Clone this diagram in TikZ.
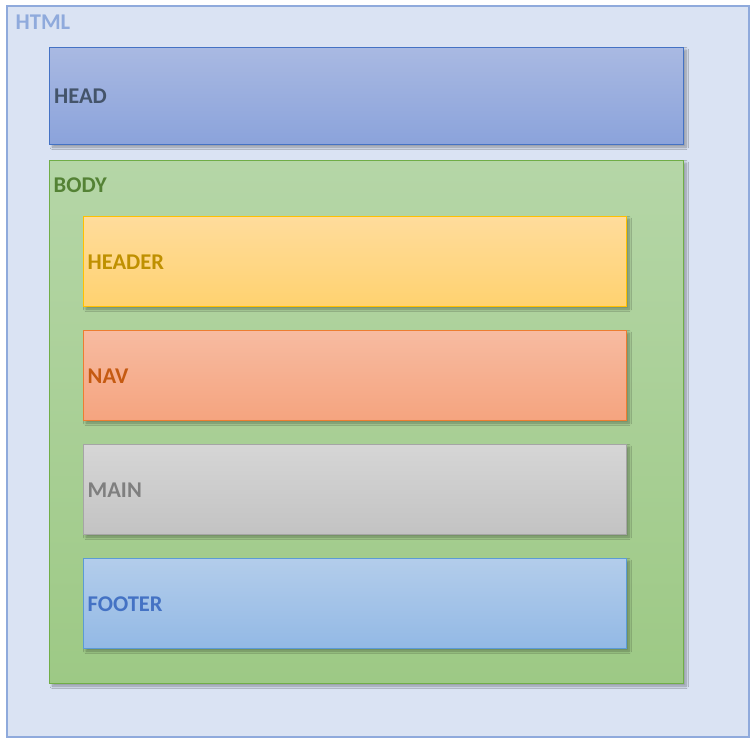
\documentclass[tikz,border=0pt]{standalone}
\usepackage{fontspec}
\setmainfont{Carlito}
\usetikzlibrary{positioning,shadows.blur}

% Colours of the page layout boxes
\definecolor{htmlfill}{HTML}{DAE3F3}
\definecolor{htmlline}{HTML}{8FAADC}
\definecolor{headline}{HTML}{4472C4}
\definecolor{headtop}{HTML}{A9B9E2}
\definecolor{headbot}{HTML}{8BA3DB}
\definecolor{headtext}{HTML}{44546A}
\definecolor{bodyline}{HTML}{70AD47}
\definecolor{bodytop}{HTML}{B5D6A7}
\definecolor{bodybot}{HTML}{9DC985}
\definecolor{bodytext}{HTML}{548235}
\definecolor{hdrline}{HTML}{FFC000}
\definecolor{hdrtop}{HTML}{FFDC9C}
\definecolor{hdrbot}{HTML}{FFD270}
\definecolor{hdrtext}{HTML}{BF9000}
\definecolor{navline}{HTML}{ED7D31}
\definecolor{navtop}{HTML}{F7BBA1}
\definecolor{navbot}{HTML}{F5A47F}
\definecolor{navtext}{HTML}{C55A11}
\definecolor{mainline}{HTML}{A5A5A5}
\definecolor{maintop}{HTML}{D6D6D6}
\definecolor{mainbot}{HTML}{C3C3C3}
\definecolor{maintext}{HTML}{7F7F7F}
\definecolor{footline}{HTML}{5B9BD5}
\definecolor{foottop}{HTML}{B3CDEB}
\definecolor{footbot}{HTML}{93B9E5}
\definecolor{foottext}{HTML}{4472C4}

\tikzset{
    panel/.style n args={3}{draw=#1, top color=#2, bottom color=#3,
        rectangle, inner sep=0pt, outer sep=0pt, line width=1pt,
        blur shadow={shadow xshift=3pt, shadow yshift=-3pt,
            shadow blur radius=2.5pt, shadow blur steps=8, shadow opacity=35}},
    tag/.style={anchor=west, inner sep=0pt, text=#1,
        font=\fontsize{22.5}{25}\selectfont\bfseries},
}

\begin{document}
\begin{tikzpicture}[x=1pt, y=-1pt]

\useasboundingbox (0,0) rectangle (756,745);

% Outer HTML box
\node[draw=htmlline, fill=htmlfill, line width=2pt, inner sep=0pt,
      minimum width=742pt, minimum height=731pt] (html) at (378,371.5) {};
\node[tag=htmlline] (htmltag) at (15.5,22.5) {HTML};

% HEAD and BODY
\node[panel={headline}{headtop}{headbot},
      minimum width=633.5pt, minimum height=97pt] (head) at (366.25,95.5) {};
\node[tag=headtext, right=4.5pt of head.west, yshift=-1pt] (headtag) {HEAD};

\node[panel={bodyline}{bodytop}{bodybot},
      minimum width=633.5pt, minimum height=523pt] (body) at (366.25,421.5) {};
\node[tag=bodytext] (bodytag) at (53.5,185) {BODY};

% Sections inside BODY
\node[panel={hdrline}{hdrtop}{hdrbot},
      minimum width=543pt, minimum height=90pt] (header) at (354.5,261) {};
\node[panel={navline}{navtop}{navbot},
      minimum width=543pt, minimum height=90pt, below=24pt of header] (nav) {};
\node[panel={mainline}{maintop}{mainbot},
      minimum width=543pt, minimum height=90pt, below=24pt of nav] (main) {};
\node[panel={footline}{foottop}{footbot},
      minimum width=543pt, minimum height=90pt, below=24pt of main] (footer) {};

\node[tag=hdrtext,  right=4.5pt of header.west, yshift=-1.5pt] (headertag) {HEADER};
\node[tag=navtext,  right=4.5pt of nav.west,    yshift=-1.5pt] (navtag)    {NAV};
\node[tag=maintext, right=4.5pt of main.west,   yshift=-1.5pt] (maintag)   {MAIN};
\node[tag=foottext, right=4.5pt of footer.west, yshift=-1.5pt] (footertag) {FOOTER};

\end{tikzpicture}
\end{document}
